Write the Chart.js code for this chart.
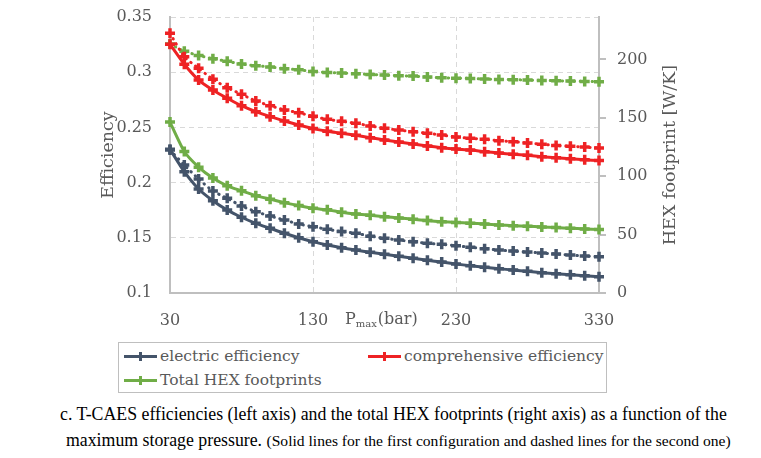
<!DOCTYPE html>
<html>
<head>
<meta charset="utf-8">
<script src="https://cdn.jsdelivr.net/npm/chart.js@4/dist/chart.umd.min.js"></script>
<style>
  body { margin: 0; background: #fff; }
  #wrap { position: relative; width: 761px; height: 458px; }
  #chart { position: absolute; left: 0; top: 0; }
  .legend { position: absolute; left: 118px; top: 342px; width: 487px; height: 49px;
    border: 1px solid #bfbfbf; font: 15.5px "DejaVu Serif", serif; color: #595959; }
  .item { position: absolute; white-space: nowrap; line-height: 20px; }
  .swatch { display: inline-block; position: relative; width: 33px; height: 3px;
    vertical-align: middle; margin-right: 3px; top: -1px; }
  .swatch::after { content: ''; position: absolute; left: 15px; top: -3px; width: 3px; height: 9px;
    background: inherit; }
  .cap { position: absolute; font: 17.8px "Liberation Serif", serif; color: #000; white-space: nowrap; line-height: 20px; }
  .cap small { font-size: 15.6px; }
</style>
</head>
<body>
<div id="wrap">
  <canvas id="chart" width="761" height="330"></canvas>
  <div class="legend">
    <div class="item" style="left:5px;top:3px"><span class="swatch" style="background:#44546a"></span>electric efficiency</div>
    <div class="item" style="left:249px;top:3px"><span class="swatch" style="background:#ee2224"></span>comprehensive efficiency</div>
    <div class="item" style="left:5px;top:27px"><span class="swatch" style="background:#70ad47"></span>Total HEX footprints</div>
  </div>
  <div class="cap" style="left:60px;top:404px">c. T-CAES efficiencies (left axis) and the total HEX footprints (right axis) as a function of the</div>
  <div class="cap" style="left:66px;top:430px">maximum storage pressure. <small>(Solid lines for the first configuration and dashed lines for the second one)</small></div>
</div>
<script>
const pressures = [30, 40, 50, 60, 70, 80, 90, 100, 110, 120, 130, 140, 150, 160, 170, 180,
  190, 200, 210, 220, 230, 240, 250, 260, 270, 280, 290, 300, 310, 320, 330]
const xTicks = [30, 130, 230, 330]

// first configuration (solid)
const electricEff1 = [0.2301, 0.2099, 0.1942, 0.1836, 0.1752, 0.1686, 0.1631, 0.1586, 0.1541, 0.1501,
  0.1465, 0.1435, 0.1410, 0.1389, 0.1369, 0.1351, 0.1332, 0.1314, 0.1296, 0.1281,
  0.1263, 0.1247, 0.1233, 0.1220, 0.1208, 0.1196, 0.1184, 0.1175, 0.1166, 0.1157, 0.1148]
const compEff1 = [0.3253, 0.3072, 0.2929, 0.2839, 0.2764, 0.2697, 0.2642, 0.2597, 0.2558, 0.2522,
  0.2489, 0.2465, 0.2447, 0.2428, 0.2407, 0.2386, 0.2368, 0.2350, 0.2332, 0.2316,
  0.2304, 0.2295, 0.2280, 0.2268, 0.2256, 0.2247, 0.2235, 0.2226, 0.2217, 0.2207, 0.2200]
const hex1 = [146.4, 121.2, 107.8, 98.4, 91.8, 87.5, 83.4, 80.4, 77.4, 74.9,
  72.6, 71.2, 69.2, 67.7, 66.6, 65.4, 64.3, 63.2, 62.0, 61.1,
  60.4, 59.8, 59.2, 58.3, 57.7, 57.2, 56.6, 56.0, 55.5, 54.9, 54.3]

// second configuration (dashed)
const electricEff2 = [0.2295, 0.2160, 0.2033, 0.1924, 0.1858, 0.1788, 0.1737, 0.1697, 0.1661, 0.1625,
  0.1600, 0.1577, 0.1556, 0.1541, 0.1515, 0.1495, 0.1480, 0.1465, 0.1450, 0.1441,
  0.1428, 0.1414, 0.1401, 0.1389, 0.1380, 0.1371, 0.1362, 0.1353, 0.1344, 0.1335, 0.1329]
const compEff2 = [0.3352, 0.3140, 0.3035, 0.2936, 0.2860, 0.2800, 0.2739, 0.2697, 0.2658, 0.2633,
  0.2600, 0.2573, 0.2555, 0.2537, 0.2513, 0.2492, 0.2476, 0.2461, 0.2447, 0.2431,
  0.2413, 0.2401, 0.2392, 0.2380, 0.2371, 0.2359, 0.2347, 0.2336, 0.2329, 0.2322, 0.2313]
const hex2 = [213.3, 207.0, 203.5, 200.7, 198.4, 196.1, 194.7, 193.6, 192.1, 191.2,
  189.8, 188.9, 188.4, 187.8, 187.2, 186.7, 186.1, 185.8, 185.0, 184.4,
  184.0, 183.8, 183.2, 182.9, 182.7, 182.4, 182.1, 181.8, 181.5, 181.2, 181.0]

const BLUE = '#44546a'
const RED = '#ee2224'
const GREEN = '#70ad47'
const AXIS = '#bfbfbf'
const GRID = '#d9d9d9'
const TEXT = '#595959'
const FONT = '"DejaVu Serif", serif'

const toPoints = (vals) => vals.map((v, i) => ({ x: pressures[i], y: v }))

const series = (label, vals, color, dashed, axis) => ({
  label,
  data: toPoints(vals),
  yAxisID: axis,
  borderColor: color,
  backgroundColor: color,
  borderWidth: 3,
  borderDash: dashed ? [0.5, 5.5] : [],
  borderCapStyle: dashed ? 'round' : 'butt',
  tension: 0.2,
  pointStyle: 'cross',
  pointRadius: 5,
  pointBorderWidth: 3.5,
  pointBorderColor: color,
  pointHoverRadius: 5,
  clip: false,
})

// y axes: fixed width, no extra vertical padding so the plot box lands where the original is
const fixY = (width) => (s) => {
  s.width = width
  s.paddingTop = 0
  s.paddingBottom = 0
}

const axisTitles = {
  id: 'axisTitles',
  afterDraw(chart) {
    const ctx = chart.ctx
    const rotated = (text, x, y) => {
      ctx.save()
      ctx.fillStyle = TEXT
      ctx.textAlign = 'center'
      ctx.textBaseline = 'middle'
      ctx.font = `17.5px ${FONT}`
      ctx.translate(x, y)
      ctx.rotate(-Math.PI / 2)
      ctx.fillText(text, 0, 0)
      ctx.restore()
    }
    rotated('Efficiency', 108, 155)
    rotated('HEX footprint [W/K]', 670, 155)

    // P_max(bar) sits on the tick label row
    ctx.save()
    ctx.fillStyle = TEXT
    ctx.textAlign = 'left'
    ctx.textBaseline = 'alphabetic'
    let x = 345
    const base = 324
    ctx.font = `16px ${FONT}`
    ctx.fillText('P', x, base)
    x += ctx.measureText('P').width
    ctx.font = `10px ${FONT}`
    ctx.fillText('max', x, base + 3)
    x += ctx.measureText('max').width + 1
    ctx.font = `16px ${FONT}`
    ctx.fillText('(bar)', x, base)
    ctx.restore()
  },
}

new Chart(document.getElementById('chart'), {
  type: 'line',
  data: {
    datasets: [
      series('electric efficiency', electricEff1, BLUE, false, 'y'),
      series('electric efficiency 2', electricEff2, BLUE, true, 'y'),
      series('comprehensive efficiency', compEff1, RED, false, 'y'),
      series('comprehensive efficiency 2', compEff2, RED, true, 'y'),
      series('Total HEX footprints', hex1, GREEN, false, 'y1'),
      series('Total HEX footprints 2', hex2, GREEN, true, 'y1'),
    ],
  },
  options: {
    responsive: false,
    animation: false,
    layout: { padding: { top: 17, left: 0, right: 0, bottom: 0 } },
    plugins: { legend: { display: false }, tooltip: { enabled: false } },
    scales: {
      x: {
        type: 'linear',
        min: 30,
        max: 330,
        afterBuildTicks: (s) => { s.ticks = xTicks.map(v => ({ value: v })) },
        afterFit: (s) => { s.height = 37 },
        grid: { color: GRID, drawTicks: false, lineWidth: 1 },
        border: { color: AXIS, width: 2, dash: [5, 4] },
        ticks: { color: TEXT, font: { family: FONT, size: 16 }, padding: 18 },
      },
      y: {
        position: 'left',
        min: 0.1,
        max: 0.35,
        afterFit: fixY(170),
        grid: { color: GRID, drawTicks: false, lineWidth: 1 },
        border: { color: AXIS, width: 2, dash: [5, 4] },
        ticks: {
          stepSize: 0.05, color: TEXT, font: { family: FONT, size: 16 }, padding: 18,
          callback: (v) => String(Number(v.toFixed(2))),
        },
      },
      y1: {
        position: 'right',
        min: 0,
        max: 236.4,
        afterBuildTicks: (s) => { s.ticks = s.ticks.filter(t => t.value % 50 === 0) },
        afterFit: fixY(162),
        grid: { drawOnChartArea: false, drawTicks: true, tickLength: 7, color: AXIS, lineWidth: 2 },
        border: { color: AXIS, width: 2 },
        ticks: { stepSize: 50, color: TEXT, font: { family: FONT, size: 16 }, padding: 11 },
      },
    },
  },
  plugins: [axisTitles],
})
</script>
</body>
</html>
